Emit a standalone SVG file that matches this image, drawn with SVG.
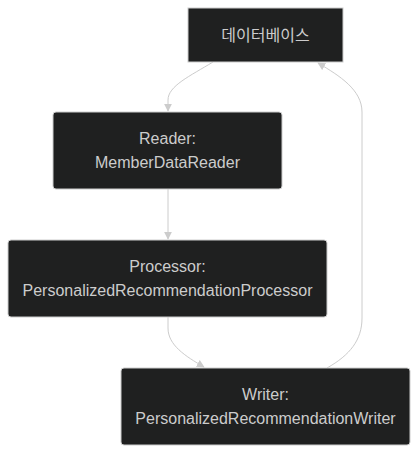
<svg xmlns="http://www.w3.org/2000/svg" width="419" height="454" viewBox="0 0 419 454">
<style>
.node rect{fill:#1f2020;stroke:#cccccc;stroke-width:1px;}
.node text{fill:#cccccc;font-family:"Liberation Sans","Noto Sans CJK KR",sans-serif;font-size:16px;text-anchor:middle;}
.edge{fill:none;stroke:#cccccc;stroke-width:1px;}
</style>
<defs>
<marker id="arrow" viewBox="0 0 10 10" refX="9" refY="5" markerWidth="8" markerHeight="8" markerUnits="userSpaceOnUse" orient="auto">
<path d="M0,0 L10,5 L0,10 z" fill="#cccccc"/>
</marker>
</defs>
<g id="connectors">
<path class="edge" d="M213,62 C190,76 168,86 168,100 L168,111" marker-end="url(#arrow)"/>
<path class="edge" d="M168,189 L168,239" marker-end="url(#arrow)"/>
<path class="edge" d="M168,317 L168,328 C168,345 185,356 204,367" marker-end="url(#arrow)"/>
<path class="edge" d="M327,368 C350,355 362,340 362,318 L362,112 C362,90 340,76 318,63" marker-end="url(#arrow)"/>
</g>
<g id="db" class="node">
<rect x="188" y="8" width="155" height="54"/>
<text x="265.5" y="41">데이터베이스</text>
</g>
<g id="reader" class="node">
<rect x="53" y="112" width="229" height="77" rx="3"/>
<text x="167.5" y="144">Reader:</text>
<text x="167.5" y="168">MemberDataReader</text>
</g>
<g id="processor" class="node">
<rect x="8" y="240" width="319" height="77" rx="3"/>
<text x="167.5" y="272">Processor:</text>
<text x="167.5" y="296">PersonalizedRecommendationProcessor</text>
</g>
<g id="writer" class="node">
<rect x="121" y="368" width="289" height="77" rx="3"/>
<text x="265.5" y="400">Writer:</text>
<text x="265.5" y="424">PersonalizedRecommendationWriter</text>
</g>
</svg>
